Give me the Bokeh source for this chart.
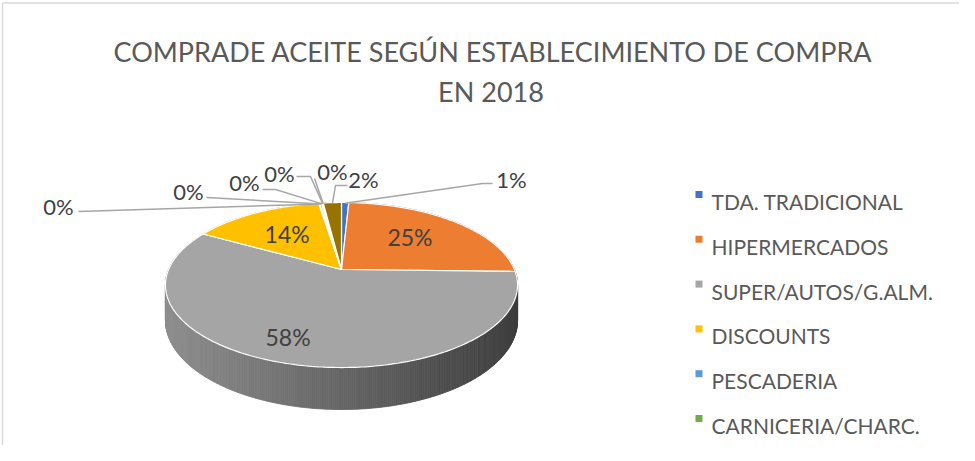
import numpy as np
from bokeh.plotting import figure
from bokeh.models import Range1d
from bokeh.embed import file_html
from bokeh.resources import INLINE
from bokeh.core.properties import value

# ---------------- data ----------------
title_lines = ["COMPRADE ACEITE SEGÚN ESTABLECIMIENTO DE COMPRA", "EN 2018"]
categories = ["TDA. TRADICIONAL", "HIPERMERCADOS", "SUPER/AUTOS/G.ALM.", "DISCOUNTS",
              "PESCADERIA", "CARNICERIA/CHARC.", "ECONOMATOS/COOP.", "MERCADILLOS",
              "AUTOCONSUMO", "OTROS CANALES"]
shares = [0.8, 24.6, 57.7, 14.4, 0.1, 0.2, 0.1, 0.05, 0.05, 2.0]   # % of purchases
visible_legend = 6   # the reference legend is cut off after the sixth entry

# ---------------- style / layout ----------------
colors = ["#4472C4", "#ED7D31", "#A5A5A5", "#FFC000", "#5B9BD5", "#70AD47",
          "#264478", "#9E480E", "#636363", "#997300"]
FONT = "Lato"
W, H = 959, 445
CX, CY = 341.0, 269.0        # projected pie centre (px)
RX, RY = 172.9, 79.6         # disc radii before perspective
PERSP = 0.188                # perspective strength
DEPTH = 34.1                 # thickness of the pie
# inside labels: radial fraction, pixel nudge
inside_label = {1: (0.58, 0, -3), 2: (0.78, -12, -2), 3: (0.60, 0, 0)}
# outside labels: text centre, leader elbow points
outside_label = {
    0: ((511, 179), [(492, 183), (482, 183)]),
    4: ((58, 206), [(78, 211)]),
    5: ((188, 191), [(206, 197)]),
    6: ((244, 182), [(262, 189), (275, 189)]),
    7: ((279, 173), [(296, 176), (310, 176)]),
    8: ((332, 171), [(314, 178)]),
    9: ((363, 179), [(347, 185), (335, 185)]),
}


def proj(u, v, drop=0.0):
    w = 1.0 - PERSP * v
    return CX + RX * u / w, CY + RY * v / w + drop / w


def ang(frac):
    return 2 * np.pi * frac - np.pi / 2


p = figure(width=W, height=H, x_range=Range1d(0, W), y_range=Range1d(H, 0),
           output_backend="svg", toolbar_location=None, min_border=0,
           x_axis_type=None, y_axis_type=None)
p.grid.visible = False
p.outline_line_color = None
p.background_fill_color = "white"
p.border_fill_color = "white"

# chart area border (left and top edges visible)
p.segment(x0=[2, 2], y0=[2.5, 2.5], x1=[2, W], y1=[H, 2.5], line_color="#d9d9d9", line_width=1.5)

total = float(sum(shares))
cum = np.concatenate([[0.0], np.cumsum(shares)]) / total

# ---- side walls (painter's order) ----
quads = []
for i, s in enumerate(shares):
    a0, a1 = ang(cum[i]), ang(cum[i + 1])
    n = max(2, int(np.ceil((a1 - a0) / 0.01)))
    t = np.linspace(a0, a1, n + 1)
    for k in range(n):
        u0, v0, u1, v1 = np.cos(t[k]), np.sin(t[k]), np.cos(t[k + 1]), np.sin(t[k + 1])
        xa, ya = proj(u0, v0)
        xb, yb = proj(u1, v1)
        xc, yc = proj(u1, v1, DEPTH)
        xd, yd = proj(u0, v0, DEPTH)
        xm = (xa + xb) / 2
        f = 0.86 - 0.48 * (xm - (CX - RX)) / (2 * RX)
        f = min(max(f, 0.3), 0.95)
        base = colors[i].lstrip("#")
        rgb = [int(base[j:j + 2], 16) for j in (0, 2, 4)]
        col = "#%02x%02x%02x" % tuple(int(c * f) for c in rgb)
        quads.append(((v0 + v1) / 2, [xa, xb, xc, xd], [ya, yb, yc, yd], col))
quads.sort(key=lambda q: q[0])
p.patches(xs=[q[1] for q in quads], ys=[q[2] for q in quads], fill_color=[q[3] for q in quads],
          line_color=[q[3] for q in quads], line_width=0.8)

# ---- top faces ----
xs, ys = [], []
for i, s in enumerate(shares):
    t = np.linspace(ang(cum[i]), ang(cum[i + 1]), max(3, int(np.ceil(s / total * 400))))
    px, py = proj(np.cos(t), np.sin(t))
    xs.append([CX] + list(px))
    ys.append([CY] + list(py))
p.patches(xs=xs, ys=ys, fill_color=colors, line_color="white", line_width=1.2)

# ---- data labels ----
pct = ["%d%%" % int(round(s / total * 100)) for s in shares]
for i, (f, dx, dy) in inside_label.items():
    a = ang((cum[i] + cum[i + 1]) / 2)
    lx, ly = proj(f * np.cos(a), f * np.sin(a))
    p.text(x=[lx + dx], y=[ly + dy], text=[pct[i]], text_font=value(FONT), text_font_size="23px",
           text_color="#404040", text_align="center", text_baseline="middle")
for i, (pos, elbow) in outside_label.items():
    a = ang((cum[i] + cum[i + 1]) / 2)
    ex, ey = proj(np.cos(a) * 0.985, np.sin(a) * 0.985)
    lx = [e[0] for e in elbow] + [ex]
    ly = [e[1] for e in elbow] + [ey]
    p.line(x=lx, y=ly, line_color="#a6a6a6", line_width=1.5)
    p.text(x=[pos[0]], y=[pos[1]], text=[pct[i]], text_font=value(FONT), text_font_size="22px",
           text_color="#404040", text_align="center", text_baseline="middle")

# ---- title ----
p.text(x=[492.5, 490.5], y=[51, 91], text=title_lines, text_font=value(FONT), text_font_size="27px",
       text_color="#595959", text_align="center", text_baseline="alphabetic")

# ---- legend (manual, Excel style) ----
ly0, lstep = 194.0, 44.8
rows = list(range(visible_legend))
p.rect(x=[698.5] * len(rows), y=[ly0 + r * lstep for r in rows], width=7, height=7,
       fill_color=[colors[r] for r in rows], line_color=None)
p.text(x=[711] * len(rows), y=[ly0 + r * lstep + 7 for r in rows], text=[categories[r] for r in rows],
       text_font=value(FONT), text_font_size="21px", text_color="#595959",
       text_align="left", text_baseline="alphabetic")

open("out.html", "w").write(file_html(p, INLINE))
